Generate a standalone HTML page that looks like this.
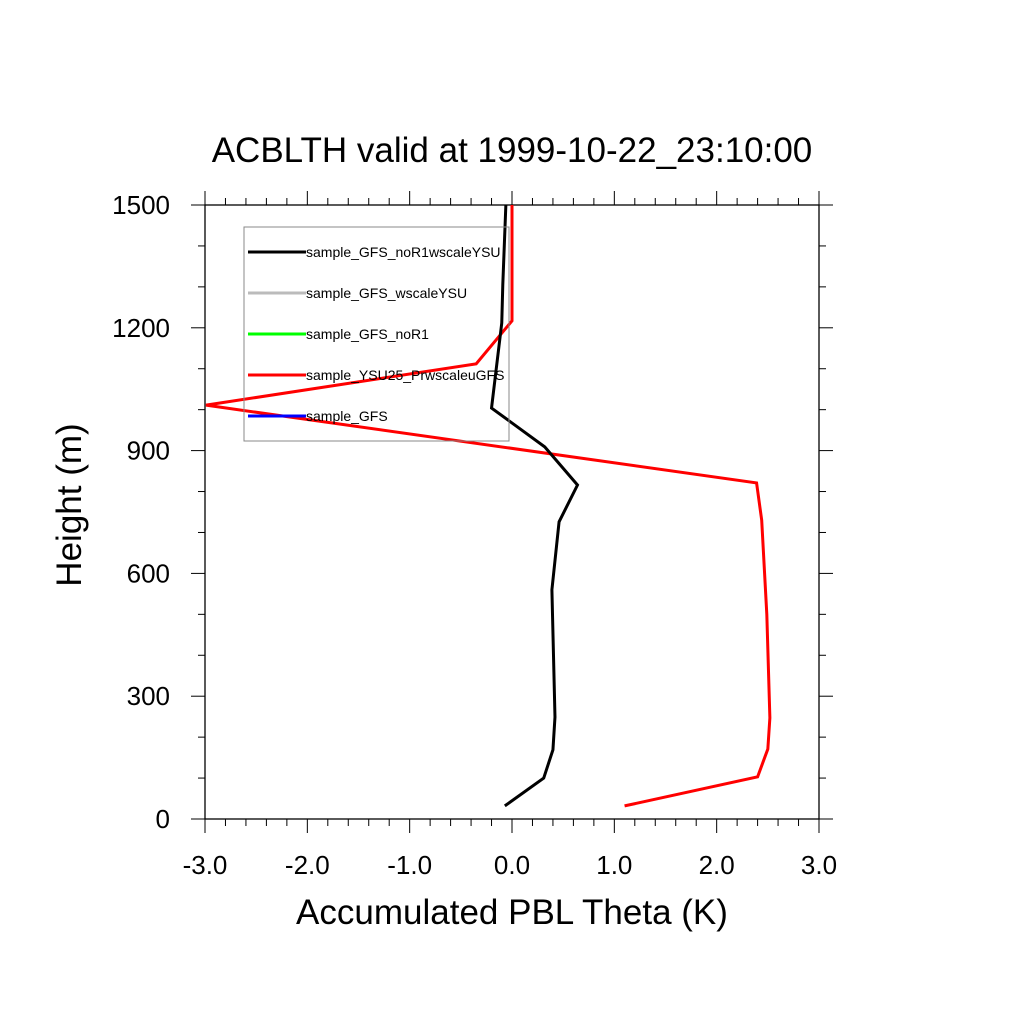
<!DOCTYPE html>
<html><head><meta charset="utf-8"><style>
body{margin:0;background:#fff}
svg text{font-family:"Liberation Sans",sans-serif}
</style></head><body>
<svg id="chart" width="1024" height="1024" xmlns="http://www.w3.org/2000/svg">
<rect width="1024" height="1024" fill="#fff"/>
<text x="512" y="162" font-size="35" text-anchor="middle">ACBLTH valid at 1999-10-22_23:10:00</text>
<g id="axes"></g>
<g id="series"></g>
<g id="legend"></g>
<text x="512" y="924" font-size="35" text-anchor="middle">Accumulated PBL Theta (K)</text>
<text transform="translate(81,505) rotate(-90)" font-size="35" text-anchor="middle">Height (m)</text>
</svg>
<script>
const xTicks=[-3,-2,-1,0,1,2,3];
const xTickLabels=["-3.0","-2.0","-1.0","0.0","1.0","2.0","3.0"];
const yTicks=[0,300,600,900,1200,1500];
const yTickLabels=["0","300","600","900","1200","1500"];
const heights=[32,100,169,249,560,726,816,909,1004,1212,1305,1500];
const blackVals=[-0.07,0.31,0.40,0.42,0.39,0.46,0.64,0.32,-0.20,-0.10,-0.09,-0.06];
const redHeights=[32,103,171,247,500,730,821,1011,1112,1217,1500];
const redVals=[1.10,2.40,2.50,2.52,2.49,2.44,2.39,-2.99,-0.35,0.0,0.0];
const legendNames=["sample_GFS_noR1wscaleYSU","sample_GFS_wscaleYSU","sample_GFS_noR1","sample_YSU25_PrwscaleuGFS","sample_GFS"];
const legendColors=["#000","#bbb","#0f0","#f00","#00f"];
const X0=205,X1=819,Y0=819,Y1=205;
const sx=v=>X0+(v+3)/6*(X1-X0);
const sy=h=>Y0-h/1500*(Y0-Y1);
const NS="http://www.w3.org/2000/svg";
function mk(tag,attrs,parent){const e=document.createElementNS(NS,tag);for(const k in attrs)e.setAttribute(k,attrs[k]);parent.appendChild(e);return e;}
const ax=document.getElementById('axes');
const frame=mk('rect',{x:X0,y:Y1,width:X1-X0,height:Y0-Y1,fill:'none',stroke:'#000','stroke-width':1.3},ax);


for(let v=-3;v<=3.0001;v+=0.2){const major=Math.abs(v-Math.round(v))<1e-6;const L=major?14:7;const x=sx(v);
 mk('line',{x1:x,y1:Y0,x2:x,y2:Y0+L,stroke:'#000','stroke-width':1},ax);
 mk('line',{x1:x,y1:Y1,x2:x,y2:Y1-L,stroke:'#000','stroke-width':1},ax);}
for(let h=0;h<=1500;h+=100){const major=h%300===0;const L=major?14:7;const y=sy(h);
 mk('line',{x1:X0,y1:y,x2:X0-L,y2:y,stroke:'#000','stroke-width':1},ax);
 mk('line',{x1:X1,y1:y,x2:X1+L,y2:y,stroke:'#000','stroke-width':1},ax);}
xTicks.forEach((v,i)=>{const t=mk('text',{x:sx(v),y:874,'font-size':26,'text-anchor':'middle'},ax);t.textContent=xTickLabels[i];
 
 });
yTicks.forEach((h,i)=>{const t=mk('text',{x:170,y:sy(h)+9,'font-size':26,'text-anchor':'end'},ax);t.textContent=yTickLabels[i];
 
 });
const se=document.getElementById('series');
const red=mk('polyline',{points:redVals.map((v,i)=>sx(v)+','+sy(redHeights[i])).join(' '),fill:'none',stroke:'#f00','stroke-width':3,'stroke-linejoin':'miter'},se);


const blk=mk('polyline',{points:blackVals.map((v,i)=>sx(v)+','+sy(heights[i])).join(' '),fill:'none',stroke:'#000','stroke-width':3},se);


const lg=document.getElementById('legend');
const box=mk('rect',{x:244,y:227,width:265,height:214,fill:'none',stroke:'#888','stroke-width':1},lg);


legendNames.forEach((n,i)=>{const y=252+i*41;
 const l=mk('line',{x1:248,y1:y,x2:306,y2:y,stroke:legendColors[i],'stroke-width':3},lg);
 
 
 const t=mk('text',{x:306,y:y+5,'font-size':14},lg);t.textContent=n;
 
 });
</script>
</body></html>
